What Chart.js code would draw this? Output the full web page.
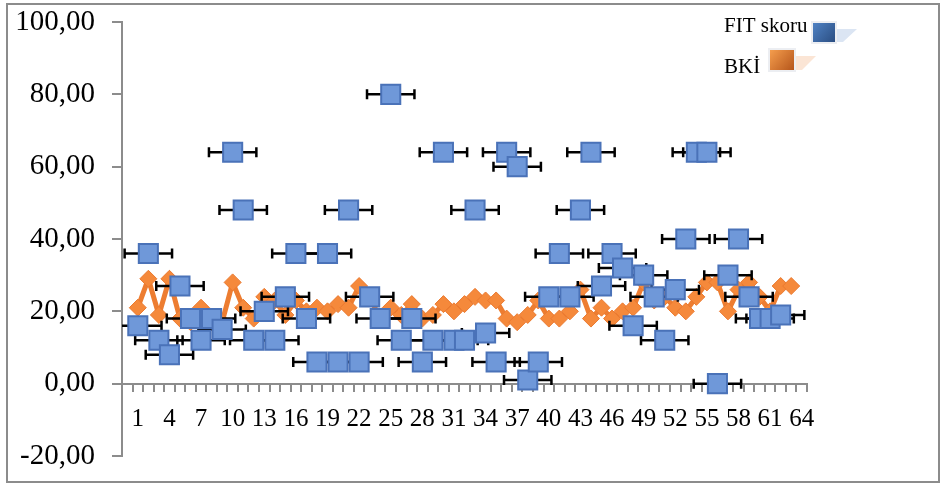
<!DOCTYPE html>
<html>
<head>
<meta charset="utf-8">
<script src="https://cdn.jsdelivr.net/npm/chart.js@4.4.0/dist/chart.umd.min.js"></script>
<style>
  html, body { margin: 0; padding: 0; background: #fff; }
  #wrap { width: 947px; height: 489px; }
</style>
</head>
<body>
<div id="wrap"><canvas id="graphique" width="947" height="489"></canvas></div>
<script>
// categories (slot 0 is empty, as in the original sheet)
var categories = [0, 1, 2, 3, 4, 5, 6, 7, 8, 9, 10, 11, 12, 13, 14, 15, 16, 17, 18, 19, 20,
  21, 22, 23, 24, 25, 26, 27, 28, 29, 30, 31, 32, 33, 34, 35, 36, 37, 38, 39, 40,
  41, 42, 43, 44, 45, 46, 47, 48, 49, 50, 51, 52, 53, 54, 55, 56, 57, 58, 59, 60,
  61, 62, 63, 64];
var shownLabels = [1, 4, 7, 10, 13, 16, 19, 22, 25, 28, 31, 34, 37, 40, 43, 46, 49, 52, 55, 58, 61, 64];

var fitSkoru = [null,
  16, 36, 12, 8, 27, 18, 12, 18, 15, 64,
  48, 12, 20, 12, 24, 36, 18, 6, 36, 6,
  48, 6, 24, 18, 80, 12, 18, 6, 12, 64,
  12, 12, 48, 14, 6, 64, 60, 1, 6, 24,
  36, 24, 48, 64, 27, 36, 32, 16, 30, 24,
  12, 26, 40, 64, 64, 0, 30, 40, 24, 18,
  18, 19];
var bki = [null,
  21, 29, 19, 29, 18, 17, 21, 17, 17, 28,
  21, 18, 24, 23, 19, 23, 20, 21, 20, 22,
  21, 27, 24, 18, 21, 19, 22, 18, 19, 22,
  20, 22, 24, 23, 23, 18, 17, 19, 23, 18,
  18, 20, 26, 18, 21, 18, 20, 21, 28, 23,
  24, 21, 20, 24, 28, 28, 20, 26, 28, 24,
  20, 27, 27];
var fitErr = 2.25; // horizontal error amount, in categories

var serif = "'Liberation Serif', 'Times New Roman', serif";

var framePlugin = {
  id: "frame",
  beforeDraw: function (chart) {
    var ctx = chart.ctx;
    ctx.save();
    ctx.fillStyle = "#fff";
    ctx.fillRect(0, 0, chart.width, chart.height);
    ctx.strokeStyle = "#8c8c8c";
    ctx.lineWidth = 2;
    ctx.strokeRect(7, 4, 932, 478);
    ctx.restore();
  }
};

var errorBarPlugin = {
  id: "errorBars",
  beforeDatasetDraw: function (chart, args) {
    if (args.index !== 0) return;
    var ctx = chart.ctx;
    var xs = chart.scales.x;
    var area = chart.chartArea;
    var meta = chart.getDatasetMeta(0);
    ctx.save();
    ctx.beginPath();
    ctx.rect(area.left, area.top, area.right - area.left, area.bottom - area.top);
    ctx.clip();
    ctx.strokeStyle = "#000";
    ctx.lineWidth = 2.5;
    meta.data.forEach(function (pt, i) {
      if (fitSkoru[i] === null) return;
      var x0 = xs.getPixelForValue(i - fitErr);
      var x1 = xs.getPixelForValue(i + fitErr);
      var y = pt.y;
      ctx.beginPath();
      ctx.moveTo(x0, y);
      ctx.lineTo(x1, y);
      ctx.moveTo(x0, y - 5);
      ctx.lineTo(x0, y + 5);
      ctx.moveTo(x1, y - 5);
      ctx.lineTo(x1, y + 5);
      ctx.stroke();
    });
    ctx.restore();
  }
};

function legendBox(ctx, x, y, w, h, c1, c2, shadow) {
  ctx.fillStyle = shadow;
  ctx.beginPath();
  ctx.moveTo(x + w, y + 6);
  ctx.lineTo(x + w + 22, y + 6);
  ctx.lineTo(x + w + 8, y + h);
  ctx.lineTo(x + w, y + h);
  ctx.closePath();
  ctx.fill();
  ctx.fillStyle = "#eceef2";
  ctx.fillRect(x - 2, y - 2, w + 4, h + 4);
  var g = ctx.createLinearGradient(x, y, x + w, y + h);
  g.addColorStop(0, c1);
  g.addColorStop(1, c2);
  ctx.fillStyle = g;
  ctx.fillRect(x, y, w, h);
}

var legendPlugin = {
  id: "customLegend",
  afterDraw: function (chart) {
    var ctx = chart.ctx;
    ctx.save();
    ctx.font = "21px " + serif;
    ctx.fillStyle = "#000";
    ctx.textBaseline = "alphabetic";
    ctx.textAlign = "left";
    ctx.fillText("FIT skoru", 724, 32);
    ctx.fillText("BKİ", 724, 73);
    legendBox(ctx, 813, 23, 22, 19, "#4f82c4", "#2b4e82", "#dbe5f3");
    legendBox(ctx, 770, 50, 24, 20, "#f59d4d", "#b5561b", "#fbe5d5");
    ctx.restore();
  }
};

new Chart(document.getElementById("graphique"), {
  type: "line",
  data: {
    labels: categories,
    datasets: [
      {
        label: "FIT skoru",
        data: fitSkoru,
        showLine: false,
        pointStyle: "rect",
        pointRadius: 13.5,
        pointHoverRadius: 13.5,
        backgroundColor: "#6f98d9",
        borderColor: "#4a72b8",
        pointBorderWidth: 2,
        order: 1
      },
      {
        label: "BKİ",
        data: bki,
        borderColor: "#ed7d31",
        borderWidth: 5,
        pointStyle: "rectRot",
        pointRadius: 8.5,
        pointHoverRadius: 8.5,
        pointBackgroundColor: "#f5893b",
        pointBorderColor: "#eb7a30",
        pointBorderWidth: 1,
        tension: 0,
        order: 2
      }
    ]
  },
  options: {
    responsive: false,
    animation: false,
    events: [],
    layout: { padding: { left: 12, top: 22, right: 140, bottom: 33 } },
    plugins: {
      legend: { display: false },
      tooltip: { enabled: false }
    },
    scales: {
      x: {
        type: "category",
        offset: true,
        position: { y: 0 },
        grid: {
          offset: true,
          drawOnChartArea: false,
          drawTicks: true,
          tickLength: 7,
          tickColor: "#8c8c8c",
          lineWidth: 2
        },
        border: { display: true, color: "#8c8c8c", width: 2 },
        ticks: {
          autoSkip: false,
          maxRotation: 0,
          padding: 14,
          color: "#000",
          font: { family: serif, size: 25 },
          callback: function (v, i) {
            var c = categories[i];
            return shownLabels.indexOf(c) >= 0 ? String(c) : "";
          }
        }
      },
      y: {
        min: -20,
        max: 100,
        afterFit: function (s) {
          s.width = 110;
          s.paddingTop = 0;
          s.paddingBottom = 0;
        },
        grid: {
          drawOnChartArea: false,
          drawTicks: true,
          tickLength: 10,
          tickColor: "#8c8c8c",
          lineWidth: 2
        },
        border: { display: true, color: "#8c8c8c", width: 2 },
        ticks: {
          stepSize: 20,
          padding: 17,
          color: "#000",
          font: { family: serif, size: 29 },
          callback: function (v) { return v.toFixed(2).replace(".", ","); }
        }
      }
    }
  },
  plugins: [framePlugin, errorBarPlugin, legendPlugin]
});
</script>
</body>
</html>
